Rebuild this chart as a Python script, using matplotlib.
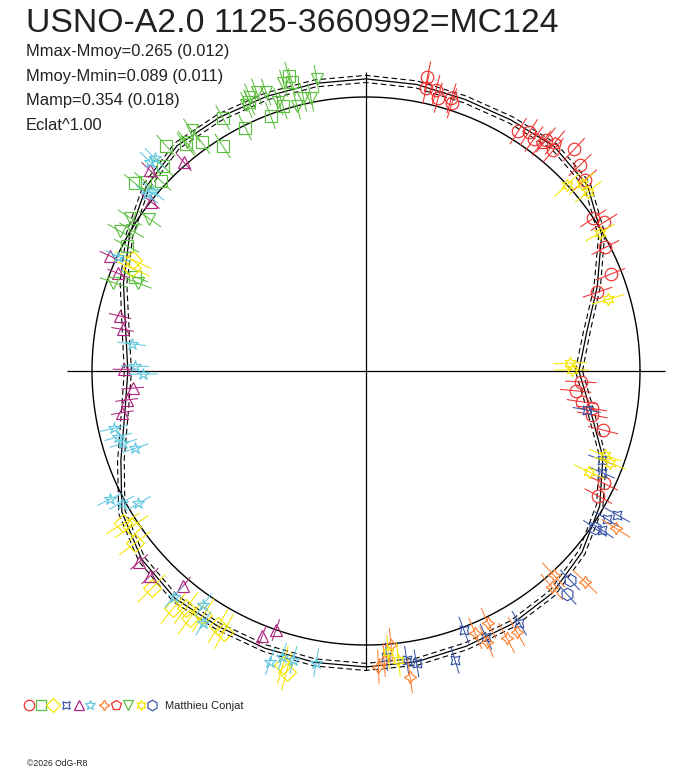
import numpy as np
import matplotlib
matplotlib.use("Agg")
import matplotlib.pyplot as plt

plt.rcParams['font.family'] = ['Liberation Sans', 'DejaVu Sans']

TITLE = "USNO-A2.0 1125-3660992=MC124"
STATS = ["Mmax-Mmoy=0.265 (0.012)",
         "Mmoy-Mmin=0.089 (0.011)",
         "Mamp=0.354 (0.018)",
         "Eclat^1.00"]
OBSERVER = "Matthieu Conjat"
COPYRIGHT = "\u00a92026 OdG-R8"

# fitted curve: angle (deg, ccw from +x) and relative radius (reference circle = 1)
fit_angle = [0, 10, 20, 30, 40, 50, 60, 70, 80, 90, 100, 110, 120, 130, 140, 150, 160, 170,
             180, 190, 200, 210, 220, 230, 240, 250, 260, 270, 280, 290, 300, 310, 320, 330, 340, 350]
fit_r = [0.777, 0.818, 0.898, 0.993, 1.055, 1.069, 1.058, 1.055, 1.062, 1.066, 1.066, 1.066,
         1.069, 1.073, 1.047, 0.996, 0.942, 0.891, 0.869, 0.894, 0.952, 1.029, 1.069, 1.084,
         1.077, 1.077, 1.080, 1.080, 1.077, 1.069, 1.066, 1.058, 1.029, 0.985, 0.920, 0.832]
fit_err = 0.013

# sessions: angle (deg), radius, error
s1_ang = [78.2, 78.0, 76.0, 75.2, 72.6, 72.2, 57.6, 55.7, 54.1, 52.1, 49.7, 46.8, 43.9, 41.1,
          33.9, 32.0, 27.3, 21.6, 18.8, -2.9, -5.4, -8.1, -9.4, -11.0, -14.0, -25.3, -28.3]
s1_r = [1.097, 1.055, 1.057, 1.032, 1.043, 1.026, 1.037, 1.055, 1.045, 1.069, 1.057, 1.109,
        1.084, 1.061, 0.999, 1.024, 0.983, 0.960, 0.892, 0.785, 0.769, 0.797, 0.835, 0.841,
        0.892, 0.960, 0.963]

s2_ang = [104.7, 104.4, 113.5, 107.4, 110.5, 119.5, 116.4, 122.5, 125.7, 131.6, 128.5, 134.7,
          137.2, 140.9, 139.4, 152.4, 157.8]
s2_r = [1.114, 1.088, 1.069, 1.015, 0.995, 1.062, 0.992, 0.974, 1.028, 1.100, 1.057, 1.054,
        1.021, 1.086, 1.062, 0.986, 0.911]

s3_ang = [212.1, 213.6, 216.7, 225.4, 230.9, 232.8, 234.5, 236.3, 239.9, 241.4, 254.2, 255.2,
          154.5, 156.3]
s3_r = [1.046, 1.027, 1.052, 1.114, 1.116, 1.087, 1.109, 1.070, 1.076, 1.083, 1.115, 1.135,
        0.941, 0.934]

s4_ang = [-10.0, -20.7, -23.3, -29.8, -31.6, -34.0, -69.3, -65.7, -58.7, -72.9, -82.0, -80.2, -85.9]
s4_r = [0.818, 0.919, 0.937, 1.057, 1.032, 1.038, 1.011, 1.064, 1.077, 1.104, 1.065, 1.083, 1.045]

s5_ang = [167.4, 170.3, 179.6, 184.2, 186.9, 189.7, 220.1, 223.5, 229.6, 248.6, 250.8,
          131.1, 137.1, 141.8, 155.8, 158.5]
s5_r = [0.920, 0.901, 0.883, 0.854, 0.880, 0.902, 1.082, 1.087, 1.030, 1.039, 1.001,
        1.011, 1.077, 1.000, 1.024, 0.972]

s6_ang = [208.3, 210.2, 229.6, 235.2, 237.2, 251.7, 253.7, 255.9, 260.3, 173.4, 178.8, 180.8,
          192.8, 194.9, 196.6, 198.5, 206.6, 134.8, 135.9, 139.8, 141.1, 155.2]
s6_r = [1.013, 0.961, 1.081, 1.040, 1.096, 1.117, 1.086, 1.088, 1.080, 0.861, 0.843, 0.813,
        0.943, 0.935, 0.924, 0.889, 1.045, 1.093, 1.098, 1.017, 1.028, 0.996]

s7_ang = [-32.2, -47.4, -49.3, -43.9, -64.1, -67.4, -66.0, -62.2, -60.0, -84.8, -87.6, -81.8, -86.4]
s7_r = [1.078, 1.011, 1.039, 1.109, 1.023, 1.037, 1.082, 1.102, 1.099, 1.004, 1.080, 1.127, 1.057]

s8_ang = [52.4, 50.4]
s8_r = [1.050, 1.082]

s9_ang = [106.0, 99.6, 112.9, 111.4, 109.7, 114.2, 108.0, 104.6, 102.9, 101.4, 125.9, 128.1,
          144.9, 147.0, 150.4, 149.0, 160.7, 158.9]
s9_r = [1.093, 1.081, 1.087, 1.095, 1.081, 1.064, 1.034, 1.001, 1.023, 1.018, 1.085, 1.061,
        0.966, 1.027, 1.033, 0.998, 0.977, 0.891]

s10_ang = [42.8, 41.0, 38.9, 30.6, 16.5, 2.2, 0.3, -19.4, -20.7, -24.3, -85.5, -83.6]
s10_r = [0.999, 1.043, 1.042, 0.992, 0.922, 0.745, 0.751, 0.925, 0.952, 0.894, 1.028, 1.061]

s11_ang = [-34.5, -45.7, -48.0]
s11_r = [1.014, 1.066, 1.095]

sessions = [
    (s1_ang, s1_r, 0.055, 'o', '#f03030'),
    (s2_ang, s2_r, 0.050, 's', '#5ec040'),
    (s3_ang, s3_r, 0.070, 'D', '#f5e600'),
    (s4_ang, s4_r, 0.050, (4, 1, 45), '#3a56a8'),
    (s5_ang, s5_r, 0.040, '^', '#b0257f'),
    (s6_ang, s6_r, 0.050, '*', '#62c8e0'),
    (s7_ang, s7_r, 0.060, (4, 1, 0), '#ff8030'),
    (s8_ang, s8_r, 0.055, 'p', '#f03030'),
    (s9_ang, s9_r, 0.050, 'v', '#5ec040'),
    (s10_ang, s10_r, 0.060, (6, 1, 0), '#f5e600'),
    (s11_ang, s11_r, 0.050, 'h', '#3a56a8'),
]

W, H = 688, 768
CX, CY = 366, 371          # pixel center of the polar frame
SCALE = 274                # pixels per unit radius
RMAX = 1.25

fig = plt.figure(figsize=(W / 100, H / 100), dpi=100)
d = 2 * RMAX * SCALE
ax = fig.add_axes([(CX - d / 2) / W, (H - CY - d / 2) / H, d / W, d / H], projection='polar')
ax.set_rlim(0, RMAX)
ax.set_axis_off()

# cross hairs
for t in [0, np.pi / 2, np.pi, 3 * np.pi / 2]:
    ax.plot([t, t], [0, 1.09], color='black', lw=0.9, solid_capstyle='butt')

# reference circle
tt = np.linspace(0, 2 * np.pi, 721)
ax.plot(tt, np.ones_like(tt), color='black', lw=1.0)

# fitted curve with envelope
fa = np.radians(fit_angle + [fit_angle[0] + 360])
fr = np.array(fit_r + [fit_r[0]])
ax.plot(fa, fr, color='black', lw=0.9)
ax.plot(fa, fr + fit_err, color='black', lw=0.8, ls=(0, (5, 3)))
ax.plot(fa, fr - fit_err, color='black', lw=0.8, ls=(0, (5, 3)))

# observations with radial error bars
for ang, rr, err, mk, col in sessions:
    th = np.radians(ang)
    rr = np.array(rr)
    for t, r in zip(th, rr):
        ax.plot([t, t], [r - err, r + err], color=col, lw=0.75, clip_on=False)
    ax.plot(th, rr, ls='none', marker=mk, ms=9, mfc='none', mec=col, mew=0.85, clip_on=False)

# texts (pixel coords, y down)
lax = fig.add_axes([0, 0, 1, 1], facecolor='none')
lax.set_xlim(0, W)
lax.set_ylim(H, 0)
lax.set_axis_off()

lax.text(26, 32.5, TITLE, fontsize=24.3, color='#222222', va='baseline', ha='left')
for i, s in enumerate(STATS):
    lax.text(26, 56 + 24.6 * i, s, fontsize=11.9, color='#222222', va='baseline', ha='left')

# legend strip
leg_x = [29.3, 41.3, 53.3, 66, 78.7, 90, 104, 115.7, 127.7, 140.7, 152.3]
for x, (_, _, _, mk, col) in zip(leg_x, sessions):
    lax.plot([x], [704.5], ls='none', marker=mk, ms=7.5, mfc='none', mec=col, mew=0.9)
lax.text(165, 709, OBSERVER, fontsize=8, color='#222222', va='baseline', ha='left')
lax.text(27, 766, COPYRIGHT, fontsize=6.2, color='#222222', va='baseline', ha='left')

fig.savefig("out.png", dpi=100)
